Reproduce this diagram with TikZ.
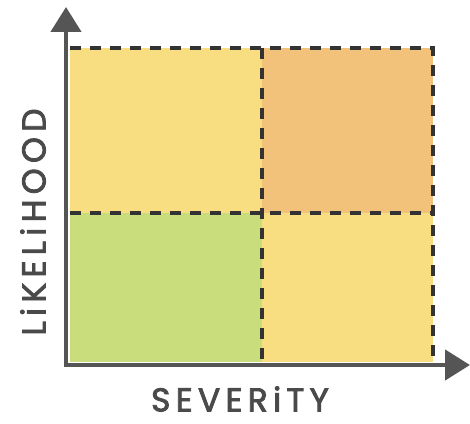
\documentclass[tikz,border=0pt]{standalone}
\usepackage{fontspec}
\setmainfont{Poppins}
\newfontfamily\labelfont[LetterSpace=16,FakeBold=2.5]{Poppins}
\usetikzlibrary{arrows.meta}
\definecolor{qyellow}{HTML}{F8DE80}
\definecolor{qorange}{HTML}{F2C27B}
\definecolor{qgreen}{HTML}{CADD7C}
\definecolor{axisgray}{HTML}{555555}
\definecolor{dashgray}{HTML}{333333}
\definecolor{textgray}{HTML}{4A4A4A}
\tikzset{
  axisline/.style={draw=axisgray, line width=4.5pt, -{Triangle[length=25pt,width=30pt]}},
  cellline/.style={draw=dashgray, line width=3.2pt, dash pattern=on 11pt off 9pt},
  axislabel/.style={text=textgray, inner sep=0pt, font=\labelfont\fontsize{33}{33}\selectfont},
}
\begin{document}
\begin{tikzpicture}[x=1pt,y=1pt]
\useasboundingbox (0,0) rectangle (470,423);
% cells
\fill[qyellow] (70,210) rectangle (262,375);
\fill[qorange] (262,210) rectangle (433,375);
\fill[qgreen] (70,61) rectangle (262,210);
\fill[qyellow] (262,61) rectangle (433,210);
% corners
\coordinate (tl) at (70,375);
\coordinate (tr) at (433,375);
\coordinate (br) at (433,61);
\coordinate (ml) at (70,210);
\coordinate (mr) at (433,210);
\coordinate (mt) at (262,375);
\coordinate (mb) at (262,61);
\draw[cellline] (tl) -- (tr) -- (br);
\draw[cellline] (ml) -- (mr);
\draw[cellline] (mt) -- (mb);
% axes
\coordinate (origin) at (66,58);
\coordinate (ytip) at (66,416);
\coordinate (xtip) at (470,58);
\draw[axisline] (66,56) -- (ytip);
\draw[axisline] (64,58) -- (xtip);
\node[axislabel] (sev) at (240,24) {SEVERiTY};
\node[axislabel, rotate=90] (lik) at (33,201) {LiKELiHOOD};
\end{tikzpicture}
\end{document}
